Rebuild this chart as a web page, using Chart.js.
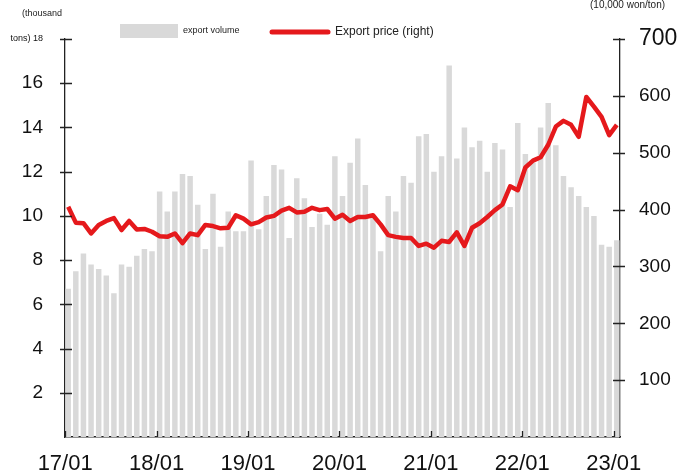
<!DOCTYPE html>
<html>
<head>
<meta charset="utf-8">
<script src="https://cdn.jsdelivr.net/npm/chart.js@4"></script>
<style>
  html, body { margin: 0; padding: 0; background: #fff; }
  #wrap { width: 681px; height: 472px; }
</style>
</head>
<body>
<div id="wrap"><canvas id="c" width="681" height="472"></canvas></div>
<script>
// tick labels along the x-axis (one every 12 months)
const yearTicks = ['17/01', '18/01', '19/01', '20/01', '21/01', '22/01', '23/01'];

// export volume, thousand tons, monthly 17/01 .. 23/01
const volume = [
  6.7, 7.5, 8.3, 7.8, 7.6, 7.3, 6.5, 7.8, 7.7, 8.2, 8.5, 8.4,
  11.1, 10.2, 11.1, 11.9, 11.8, 10.5, 8.5, 11.0, 8.6, 10.2, 9.3, 9.3,
  12.5, 9.4, 10.9, 12.3, 12.1, 9.0, 11.7, 10.8, 9.5, 10.1, 9.6, 12.7,
  10.9, 12.4, 13.5, 11.4, 10.0, 8.4, 10.9, 10.2, 11.8, 11.5, 13.6, 13.7,
  12.0, 12.7, 16.8, 12.6, 14.0, 13.1, 13.4, 12.0, 13.3, 13.0, 10.4, 14.2,
  12.8, 12.4, 14.0, 15.1, 13.2, 11.8, 11.3, 10.9, 10.4, 10.0, 8.7, 8.6,
  8.9
];

// export price, 10,000 won/ton
const price = [
  405, 377, 376, 358, 373, 380, 385, 364, 380, 365, 366, 361,
  353, 352, 358, 341, 358, 355, 373, 371, 367, 368, 390, 384,
  374, 378, 386, 389, 398, 403, 395, 396, 403, 399, 401, 384,
  391, 380, 387, 387, 390, 374, 355, 352, 350, 350, 336, 340,
  333, 345, 343, 360, 336, 368, 376, 387, 399, 409, 441, 434,
  474, 486, 492, 514, 546, 556, 549, 528, 598, 581, 563, 531,
  549
];

const FONT = "'Liberation Sans', Arial, sans-serif";

const volPts = volume.map((v, i) => ({ x: i, y: v }));
const pricePts = price.map((v, i) => ({ x: i, y: v }));

// draws the small captions, the legend and the crossing tick marks
const extras = {
  id: 'extras',
  afterDraw(chart) {
    const ctx = chart.ctx;
    const { left, right, bottom } = chart.chartArea;
    const yl = chart.scales.y, yr = chart.scales.y1, x = chart.scales.x;
    ctx.save();
    ctx.strokeStyle = '#222';
    ctx.lineWidth = 1.3;
    ctx.beginPath();
    yl.ticks.forEach(t => {
      if (t.value === 0) return;
      const p = Math.round(yl.getPixelForValue(t.value)) + 0.5;
      ctx.moveTo(left - 5, p); ctx.lineTo(left + 7, p);
    });
    yr.ticks.forEach(t => {
      if (t.value === 0) return;
      const p = Math.round(yr.getPixelForValue(t.value)) + 0.5;
      ctx.moveTo(right - 7, p); ctx.lineTo(right + 5, p);
    });
    x.ticks.forEach(t => {
      const p = Math.round(x.getPixelForValue(t.value)) + 0.5;
      ctx.moveTo(p, bottom); ctx.lineTo(p, bottom - 6);
    });
    ctx.stroke();

    ctx.fillStyle = '#222';
    ctx.textBaseline = 'middle';
    ctx.font = '9px ' + FONT;
    ctx.textAlign = 'left';
    ctx.fillText('(thousand', 22, 14);
    ctx.font = '10px ' + FONT;
    ctx.fillText('(10,000 won/ton)', 590, 5);

    // legend
    ctx.fillStyle = '#d9d9d9';
    ctx.fillRect(120, 24, 58, 14);
    ctx.fillStyle = '#222';
    ctx.font = '9px ' + FONT;
    ctx.fillText('export volume', 183, 31);
    ctx.strokeStyle = '#e5191c';
    ctx.lineWidth = 5;
    ctx.lineCap = 'round';
    ctx.beginPath();
    ctx.moveTo(272, 32); ctx.lineTo(328, 32);
    ctx.stroke();
    ctx.font = '12px ' + FONT;
    ctx.fillText('Export price (right)', 335, 32);
    ctx.restore();
  }
};

new Chart(document.getElementById('c'), {
  type: 'bar',
  data: {
    datasets: [
      {
        type: 'line',
        label: 'Export price (right)',
        data: pricePts,
        yAxisID: 'y1',
        borderColor: '#e5191c',
        borderWidth: 4.5,
        pointRadius: 0,
        tension: 0,
        borderJoinStyle: 'round',
        order: 0
      },
      {
        type: 'bar',
        label: 'export volume',
        data: volPts,
        yAxisID: 'y',
        backgroundColor: '#d9d9d9',
        barPercentage: 0.72,
        categoryPercentage: 1,
        order: 1
      }
    ]
  },
  options: {
    responsive: false,
    animation: false,
    layout: { padding: { top: 39, left: 0, right: 0, bottom: 0 } },
    plugins: { legend: { display: false }, tooltip: { enabled: false } },
    scales: {
      x: {
        type: 'linear',
        offset: false,
        min: -0.42,
        max: 72.42,
        // year ticks sit just left of the January bar
        afterBuildTicks: s => { s.ticks = yearTicks.map((_, i) => ({ value: i * 12 - 0.4 })); },
        afterFit: s => { s.height = 35; },
        grid: { display: false },
        border: { color: '#222', width: 1.5 },
        ticks: {
          autoSkip: false,
          maxRotation: 0,
          padding: 6,
          color: '#111',
          font: { family: FONT, size: 22 },
          callback: v => yearTicks[Math.round(v / 12)]
        }
      },
      y: {
        position: 'left',
        min: 0,
        max: 18,
        afterFit: s => { s.width = 65; },
        grid: { display: false },
        border: { color: '#222', width: 1.3 },
        ticks: {
          stepSize: 2,
          padding: 14,
          color: '#111',
          font: c => (c.tick && c.tick.value === 18) ? { family: FONT, size: 9 } : { family: FONT, size: 19 },
          callback: v => v === 0 ? '' : (v === 18 ? 'tons) 18' : v)
        }
      },
      y1: {
        position: 'right',
        min: 0,
        max: 700,
        afterFit: s => { s.width = 61; },
        grid: { display: false },
        border: { color: '#222', width: 1.3 },
        ticks: {
          stepSize: 100,
          padding: 11,
          color: '#111',
          font: c => (c.tick && c.tick.value === 700) ? { family: FONT, size: 23 } : { family: FONT, size: 19 },
          callback: v => v === 0 ? '' : v
        }
      }
    }
  },
  plugins: [extras]
});
</script>
</body>
</html>
